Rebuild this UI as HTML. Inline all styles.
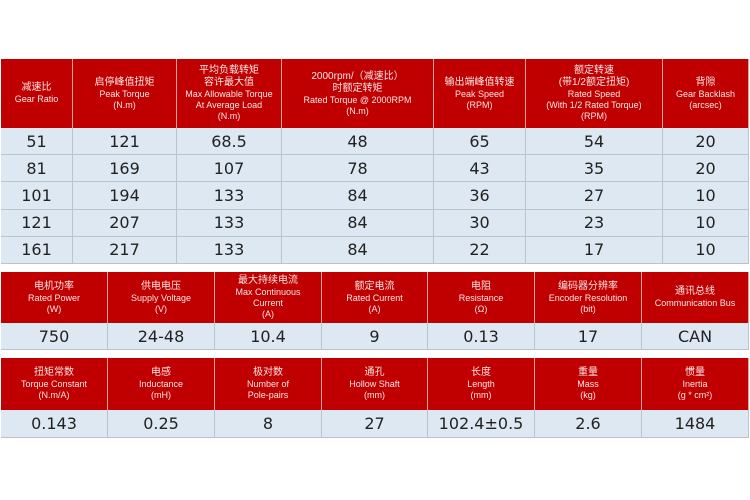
<!DOCTYPE html>
<html><head><meta charset="utf-8"><style>
body{margin:0;width:750px;height:500px;background:#fff;position:relative;overflow:hidden;font-family:"Liberation Sans","Noto Sans CJK SC",sans-serif}
.c{position:absolute;box-sizing:border-box;display:flex;align-items:center;justify-content:center;text-align:center}
.h{background:#c00000;color:#fbe6e6;font-size:9px;line-height:11px;border-right:1px solid #e8a0a0;flex-direction:column}
.h b{font-weight:normal;font-size:10px;line-height:12px}
.d{background:#dde8f2;color:#222;font-size:16px;font-family:"DejaVu Sans",sans-serif;border-right:1px solid #b9c3cc;border-bottom:1px solid #b9c3cc}
</style></head><body>
<div id="t"></div>
<script>
function T(xs,y0,hh,rows,rh,heads,data){
 let s='';
 for(let i=0;i<heads.length;i++){
  let x=xs[i],w=xs[i+1]-xs[i];
  s+=`<div class="c h" style="left:${x}px;top:${y0}px;width:${w}px;height:${hh}px">${heads[i]}</div>`;
  for(let r=0;r<rows;r++){
   s+=`<div class="c d" style="left:${x}px;top:${y0+hh+r*rh}px;width:${w}px;height:${rh}px">${data[r][i]}</div>`;
  }
 }
 return s;
}
let h='';
h+=T([1,73,177,282,434,526,663,749],59,69,5,27.2,
['<b>减速比</b>Gear Ratio','<b>启停峰值扭矩</b>Peak Torque<br>(N.m)','<b>平均负载转矩<br>容许最大值</b>Max Allowable Torque<br>At Average Load<br>(N.m)','<b>2000rpm/（减速比）<br>时额定转矩</b>Rated Torque @ 2000RPM<br>(N.m)','<b>输出端峰值转速</b>Peak Speed<br>(RPM)','<b>额定转速<br>(带1/2额定扭矩)</b>Rated Speed<br>(With 1/2 Rated Torque)<br>(RPM)','<b>背隙</b>Gear Backlash<br>(arcsec)'],
[['51','121','68.5','48','65','54','20'],['81','169','107','78','43','35','20'],['101','194','133','84','36','27','10'],['121','207','133','84','30','23','10'],['161','217','133','84','22','17','10']]);
h+=T([1,108,215,322,428,535,642,749],272,51,1,27,
['<b>电机功率</b>Rated Power<br>(W)','<b>供电电压</b>Supply Voltage<br>(V)','<b>最大持续电流</b>Max Continuous<br>Current<br>(A)','<b>额定电流</b>Rated Current<br>(A)','<b>电阻</b>Resistance<br>(Ω)','<b>编码器分辨率</b>Encoder Resolution<br>(bit)','<b>通讯总线</b>Communication Bus'],
[['750','24-48','10.4','9','0.13','17','CAN']]);
h+=T([1,108,215,322,428,535,642,749],358,52,1,28,
['<b>扭矩常数</b>Torque Constant<br>(N.m/A)','<b>电感</b>Inductance<br>(mH)','<b>极对数</b>Number of<br>Pole-pairs','<b>通孔</b>Hollow Shaft<br>(mm)','<b>长度</b>Length<br>(mm)','<b>重量</b>Mass<br>(kg)','<b>惯量</b>Inertia<br>(g * cm²)'],
[['0.143','0.25','8','27','102.4±0.5','2.6','1484']]);
document.getElementById('t').innerHTML=h;
</script>
</body></html>
